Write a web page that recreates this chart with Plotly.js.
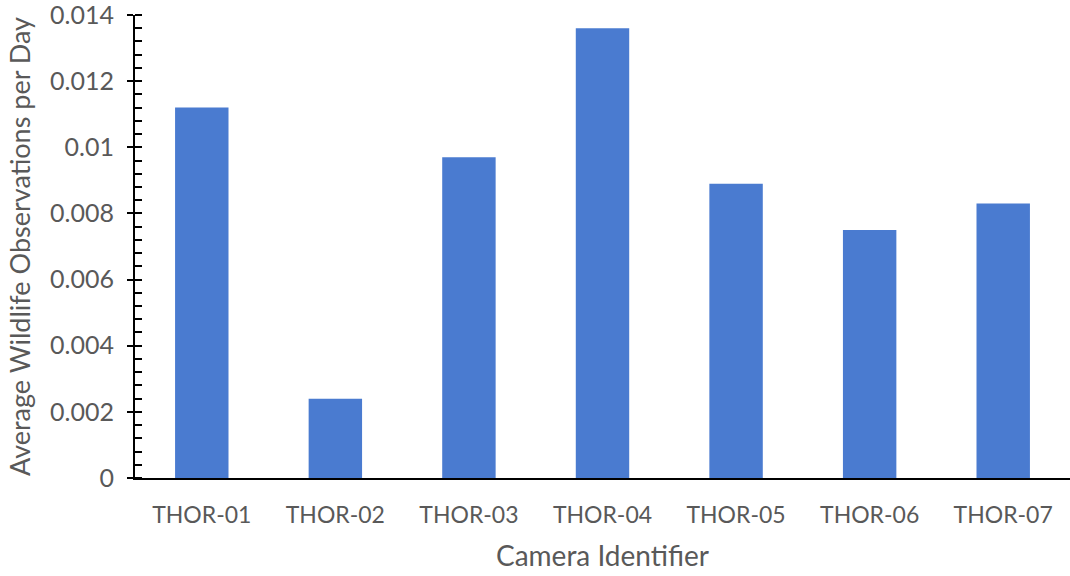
<!DOCTYPE html>
<html>
<head>
<meta charset="utf-8">
<script src="https://cdn.plot.ly/plotly-3.0.1.min.js"></script>
<style>
  html, body { margin: 0; padding: 0; background: #fff; }
  #chart { width: 1070px; height: 576px; }
</style>
</head>
<body>
<div id="chart"></div>
<script>
// Camera identifiers and their mean wildlife observations per day
const cameras = ['THOR-01', 'THOR-02', 'THOR-03', 'THOR-04', 'THOR-05', 'THOR-06', 'THOR-07'];
const avgObsPerDay = [0.0112, 0.0024, 0.0097, 0.0136, 0.0089, 0.0075, 0.0083];

const yTickVals = [0, 0.002, 0.004, 0.006, 0.008, 0.01, 0.012, 0.014];
const yTickText = ['0', '0.002', '0.004', '0.006', '0.008', '0.01', '0.012', '0.014'];

const textGrey = '#595959';
const fontFamily = 'Lato, "Open Sans", sans-serif';

const trace = {
  type: 'bar',
  x: cameras,
  y: avgObsPerDay,
  marker: { color: '#4a7bd0' },
  hoverinfo: 'x+y'
};

const layout = {
  width: 1070,
  height: 576,
  margin: { l: 135, r: 0, t: 15, b: 98 },
  paper_bgcolor: '#ffffff',
  plot_bgcolor: '#ffffff',
  showlegend: false,
  bargap: 0.6,
  font: { family: fontFamily, color: textGrey, size: 23 },
  xaxis: {
    type: 'category',
    showline: true,
    linecolor: '#000000',
    linewidth: 2,
    ticks: '',
    showgrid: false,
    zeroline: false,
    ticklabelstandoff: 15,
    tickfont: { family: fontFamily, size: 23, color: textGrey },
    title: { text: 'Camera Identifier', standoff: 20, font: { family: fontFamily, size: 28, color: textGrey } }
  },
  yaxis: {
    range: [0, 0.014],
    showline: true,
    linecolor: '#000000',
    linewidth: 2,
    showgrid: false,
    zeroline: false,
    tickmode: 'array',
    tickvals: yTickVals,
    ticktext: yTickText,
    ticks: 'outside',
    ticklen: 6,
    tickwidth: 2,
    tickcolor: '#000000',
    ticklabelstandoff: 8,
    ticklabeloverflow: 'allow',
    minor: { dtick: 0.0004, ticks: 'inside', ticklen: 7, tickwidth: 2, tickcolor: '#000000', showgrid: false },
    tickfont: { family: fontFamily, size: 25, color: textGrey },
    title: { text: 'Average Wildlife Observations per Day', standoff: 12, font: { family: fontFamily, size: 27, color: textGrey } }
  },
  // Inner half of the major ticks so they cross the axis line
  yaxis2: {
    overlaying: 'y',
    matches: 'y',
    side: 'left',
    range: [0, 0.014],
    showline: false,
    showgrid: false,
    zeroline: false,
    showticklabels: false,
    tickmode: 'array',
    tickvals: yTickVals,
    ticks: 'inside',
    ticklen: 7,
    tickwidth: 2,
    tickcolor: '#000000'
  }
};

// Invisible trace to bring the overlay axis into being
const axisTrace = {
  type: 'scatter',
  x: [cameras[0]],
  y: [0],
  yaxis: 'y2',
  mode: 'markers',
  marker: { opacity: 0 },
  hoverinfo: 'skip'
};

Plotly.newPlot('chart', [trace, axisTrace], layout, { displayModeBar: false, staticPlot: true });
</script>
</body>
</html>
